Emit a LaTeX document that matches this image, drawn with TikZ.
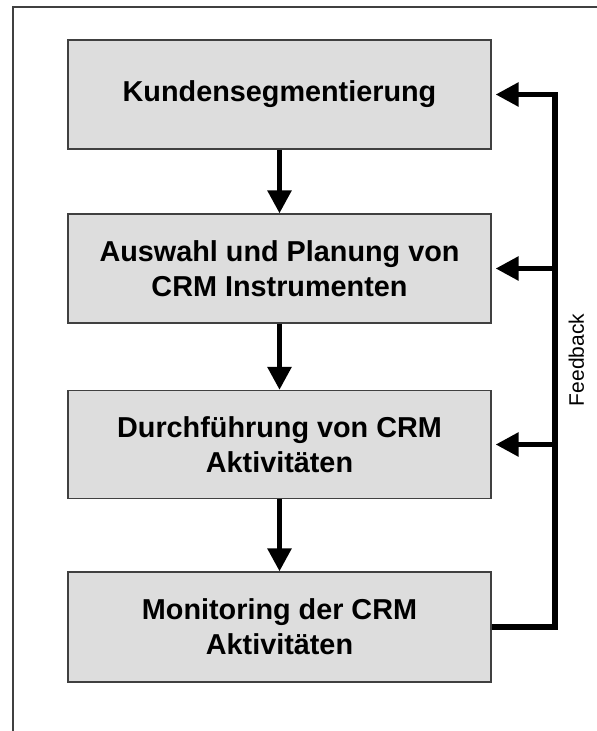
\documentclass[tikz,border=0pt]{standalone}
\usepackage{fontspec}
\setmainfont{Liberation Sans}
\usetikzlibrary{arrows.meta}
\definecolor{boxfill}{HTML}{DDDDDD}
\definecolor{boxline}{HTML}{404040}
\tikzset{
  stepbox/.style={draw=boxline, line width=1.2pt, fill=boxfill,
    minimum width=423pt, inner sep=0pt, align=center,
    font=\fontsize{28.8pt}{35pt}\selectfont\bfseries},
  flow/.style={line width=5.5pt, line join=miter,
    -{Triangle[width=23pt,length=23pt]}},
  fbline/.style={line width=5.5pt, line join=miter},
  frame/.style={draw=boxline, line width=1.2pt}
}
\begin{document}
\begin{tikzpicture}[x=1pt,y=-1pt]
\useasboundingbox (0,0) rectangle (597,731);
\draw[frame] (13,731) -- (13,7) -- (597,7);

\node[stepbox, minimum height=109pt] (b1) at (279.5,94.5) {Kundensegmentierung};
\node[stepbox, minimum height=109pt] (b2) at (279.5,268.5) {Auswahl und Planung von\\CRM Instrumenten};
\node[stepbox, minimum height=108pt] (b3) at (279.5,444.5) {Durchführung von CRM\\Aktivitäten};
\node[stepbox, minimum height=110pt] (b4) at (279.5,627) {Monitoring der CRM\\Aktivitäten};

\draw[flow] (b1) -- (b2);
\draw[flow] (b2) -- (b3);
\draw[flow] (b3) -- (b4);

\coordinate (c4) at (555,627);
\coordinate (c1) at (555,94.5);
\draw[flow] (b4.east) -- (c4) -- (c1) -- ([xshift=4pt]b1.east);
\draw[flow] (b2.east -| c1) -- ([xshift=4pt]b2.east);
\draw[flow] (b3.east -| c1) -- ([xshift=4pt]b3.east);

\node[rotate=90, inner sep=0pt, font=\fontsize{21pt}{25pt}\selectfont] (fbtext) at (576.3,360) {Feedback};
\end{tikzpicture}
\end{document}
